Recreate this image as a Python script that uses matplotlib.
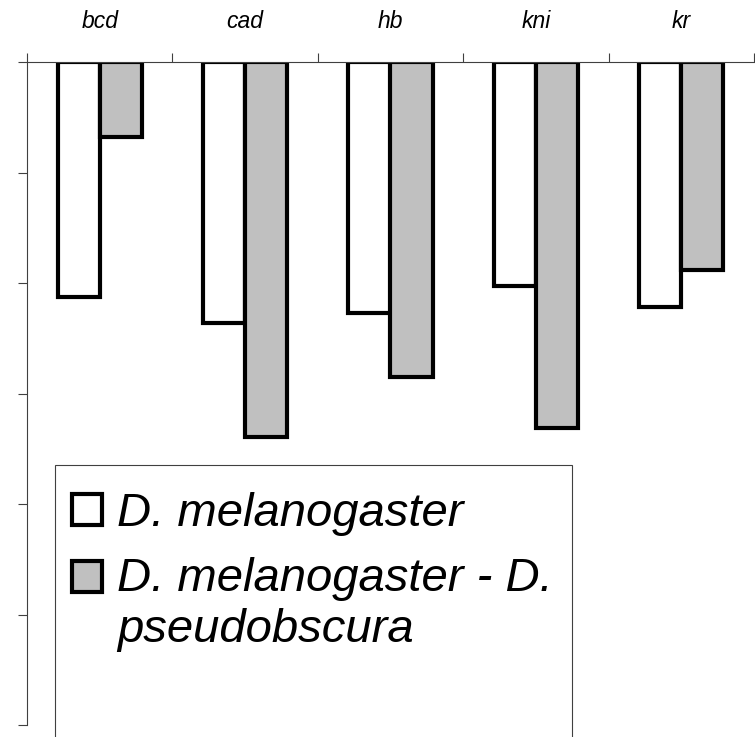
import matplotlib.pyplot as plt
import matplotlib.patches as mpatches
from matplotlib.container import BarContainer
from matplotlib.legend_handler import HandlerPatch, update_from_first_child
import numpy as np

plt.rcParams['font.family'] = ['Liberation Sans', 'DejaVu Sans']

# data (bars hang down from zero)
genes = ['bcd', 'cad', 'hb', 'kni', 'kr']
mel = [-2.13, -2.36, -2.27, -2.03, -2.22]
mel_pse = [-0.68, -3.39, -2.85, -3.31, -1.88]
labels = ['D. melanogaster', 'D. melanogaster - D.\npseudobscura']

W, H = 755, 737
fig = plt.figure(figsize=(W / 100, H / 100), dpi=100)
ax = fig.add_axes([27 / W, 1 - 725 / H, 727 / W, 663 / H])

x = np.arange(len(genes))
w = 0.289
b1 = ax.bar(x - w / 2, mel, w, color='white', edgecolor='black', linewidth=3, label=labels[0])
b2 = ax.bar(x + w / 2, mel_pse, w, color='#c0c0c0', edgecolor='black', linewidth=3, label=labels[1])

ax.set_xlim(-0.5, len(genes) - 0.5)
ax.set_ylim(-6, 0)

# y axis: ticks only, no labels
ax.set_yticks(np.arange(-6, 1, 1))
ax.set_yticklabels([])
ax.tick_params(axis='y', direction='out', length=6.5, width=0.8, color='#404040')

# category axis along the zero line on top
ax.xaxis.tick_top()
ax.set_xticks(x)
ax.set_xticklabels(genes, fontsize=16.5, style='italic')
ax.set_xticks(np.arange(-0.5, len(genes)), minor=True)
ax.tick_params(axis='x', which='major', length=0, pad=21)
ax.tick_params(axis='x', which='minor', direction='out', length=6.5, width=0.8, color='#404040', top=True, bottom=False)

for s in ['right', 'bottom']:
    ax.spines[s].set_visible(False)
for s in ['left', 'top']:
    ax.spines[s].set_linewidth(0.8)
    ax.spines[s].set_color('#404040')


# second legend key sits next to the first line of its two-line label
def top_line_patch(legend, orig_handle, xdescent, ydescent, width, height, fontsize):
    dy = 0.6 * fontsize if '\n' in orig_handle.get_label() else 0
    return mpatches.Rectangle((-xdescent, -ydescent + dy), width, height)


# legend box running off the bottom edge
frame = mpatches.Rectangle((55 / W, -0.05), (572 - 55) / W, 0.05 + 1 - 465 / H,
                           transform=fig.transFigure, facecolor='white',
                           edgecolor='#404040', linewidth=0.8, zorder=5)
fig.add_artist(frame)
leg = fig.legend(handles=[b1, b2], loc='upper left',
                 bbox_to_anchor=(72 / W, 1 - 492 / H),
                 frameon=False, prop={'size': 34, 'style': 'italic'},
                 handlelength=0.63, handleheight=0.63, handletextpad=0.32,
                 labelspacing=0.45, borderpad=0, borderaxespad=0,
                 handler_map={BarContainer: HandlerPatch(patch_func=top_line_patch,
                                                         update_func=update_from_first_child)})
leg.set_zorder(6)

fig.savefig('out.png', dpi=100)
